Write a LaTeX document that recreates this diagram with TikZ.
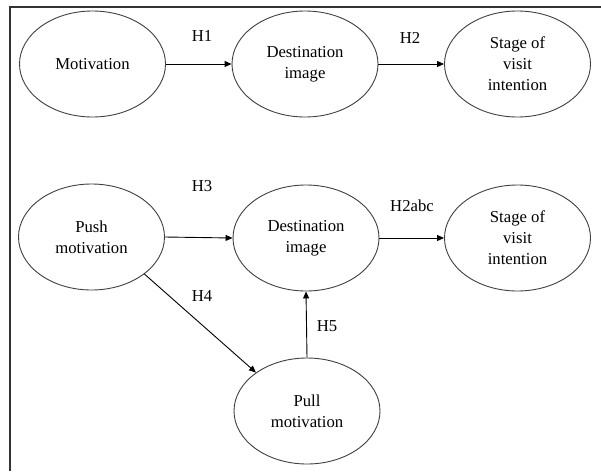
\documentclass[tikz,border=0pt]{standalone}
\usepackage{fontspec}
\setmainfont{LiberationSerif-Regular.ttf}
\usetikzlibrary{shapes.geometric,arrows.meta}
\begin{document}
\begin{tikzpicture}[x=1pt,y=-1pt,
  ell/.style={draw=black!75,line width=0.9pt,ellipse,minimum width=146pt,minimum height=106pt,inner sep=0pt,align=center,font=\rmfamily\fontsize{16.7}{21}\selectfont},
  lbl/.style={font=\rmfamily\fontsize{16.7}{21}\selectfont,inner sep=0pt},
  conn/.style={draw=black,line width=0.9pt,-{Triangle[length=7pt,width=6pt]}}]
\useasboundingbox (0,0) rectangle (601,471);
\fill[white] (0,0) rectangle (601,471);
\coordinate (fbl) at (10,471);
\coordinate (ftl) at (10,7);
\coordinate (ftr) at (601,7);
\draw[line width=1.4pt,black!80] (fbl) -- (ftl) -- (ftr);
% top row
\node[ell] (mot) at (92.5,64) {Motivation};
\node[ell] (dest1) at (305,64) {Destination\\image};
\node[ell] (stage1) at (517.5,64) {Stage of\\visit\\intention};
\draw[conn] (mot) -- (dest1);
\draw[conn] (dest1) -- (stage1);
\node[lbl] (h1) at (202,36) {H1};
\node[lbl] (h2) at (410,38) {H2};
% bottom
\node[ell] (push) at (91.5,237) {Push\\motivation};
\node[ell] (dest2) at (306,238) {Destination\\image};
\node[ell] (stage2) at (517.5,238) {Stage of\\visit\\intention};
\node[ell] (pull) at (307,411) {Pull\\motivation};
\draw[conn] (push.east) -- (dest2.west);
\draw[conn] (dest2) -- (stage2);
\draw[conn] (push.-35) -- (pull.143);
\draw[conn] (pull.north) -- (dest2.south);
\node[lbl] (h3) at (202,186) {H3};
\node[lbl] (h2abc) at (412,206) {H2abc};
\node[lbl] (h4) at (202,296) {H4};
\node[lbl] (h5) at (327,326) {H5};
\end{tikzpicture}
\end{document}
